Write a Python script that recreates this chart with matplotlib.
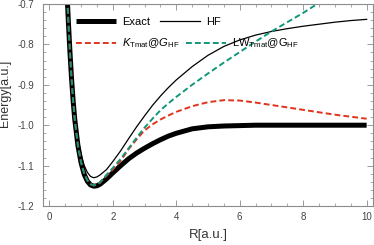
import matplotlib
matplotlib.use("Agg")
import matplotlib.pyplot as plt
from matplotlib.lines import Line2D

plt.rcParams['font.family'] = ['Liberation Sans', 'DejaVu Sans']
plt.rcParams['mathtext.fontset'] = 'custom'
plt.rcParams['mathtext.rm'] = 'Liberation Sans'
plt.rcParams['mathtext.it'] = 'Liberation Sans:italic'

# bond length R [a.u.] and energies [a.u.]
R = [0.5, 0.55, 0.6, 0.65, 0.7, 0.75, 0.8, 0.9, 1.0, 1.1, 1.2, 1.3, 1.4, 1.5, 1.6,
     1.8, 2.0, 2.25, 2.5, 2.75, 3.0, 3.25, 3.5, 3.75, 4.0, 4.5, 5.0, 5.5, 6.0, 6.5,
     7.0, 7.5, 8.0, 8.5, 9.0, 9.5, 10.0]

exact = [-0.56, -0.66, -0.745, -0.82, -0.885, -0.94, -0.985, -1.05, -1.093, -1.122,
         -1.139, -1.148, -1.151, -1.150, -1.146, -1.133, -1.118, -1.100, -1.083,
         -1.069, -1.057, -1.046, -1.036, -1.027, -1.020, -1.009, -1.004, -1.002,
         -1.001, -1.0, -1.0, -1.0, -1.0, -1.0, -1.0, -1.0, -1.0]

hf = [-0.55, -0.65, -0.735, -0.81, -0.872, -0.925, -0.968, -1.030, -1.072, -1.100,
      -1.117, -1.127, -1.130, -1.128, -1.123, -1.110, -1.090, -1.063, -1.033,
      -1.004, -0.977, -0.951, -0.928, -0.907, -0.888, -0.855, -0.827, -0.805,
      -0.789, -0.777, -0.768, -0.761, -0.755, -0.750, -0.745, -0.741, -0.738]

k_tmat = [-0.56, -0.66, -0.745, -0.82, -0.885, -0.94, -0.985, -1.05, -1.092, -1.120,
          -1.137, -1.146, -1.149, -1.147, -1.142, -1.125, -1.110, -1.088, -1.059,
          -1.035, -1.013, -0.998, -0.986, -0.976, -0.967, -0.953, -0.943, -0.938,
          -0.939, -0.944, -0.950, -0.956, -0.962, -0.968, -0.974, -0.979, -0.984]

lw_tmat = [-0.56, -0.66, -0.745, -0.82, -0.885, -0.94, -0.985, -1.05, -1.092, -1.120,
           -1.137, -1.146, -1.149, -1.147, -1.141, -1.123, -1.106, -1.083, -1.057,
           -1.031, -1.006, -0.984, -0.963, -0.946, -0.930, -0.900, -0.872, -0.845,
           -0.819, -0.793, -0.768, -0.745, -0.722, -0.697, -0.672, -0.647, -0.622]

red = '#e0331c'
green = '#12967a'

fig = plt.figure(figsize=(3.74, 2.45), dpi=100)
ax = fig.add_axes([43/374, 39/245, 330/374, 202/245])

ax.plot(R, exact, color='black', lw=3.6, solid_capstyle='butt', solid_joinstyle='round')
ax.plot(R, hf, color='black', lw=0.9)
ax.plot(R, k_tmat, color=red, lw=1.4, dashes=(3, 1.6))
ax.plot(R, lw_tmat, color=green, lw=1.4, dashes=(3, 1.6))

ax.set_xlim(-0.2, 10.2)
ax.set_ylim(-1.2, -0.7)
ax.set_xticks([0, 2, 4, 6, 8, 10])
ax.set_xticks([i * 0.5 for i in range(21)], minor=True)
ax.set_yticks([-1.2, -1.1, -1.0, -0.9, -0.8, -0.7])
ax.set_yticks([-1.2 + i * 0.02 for i in range(26)], minor=True)
ax.set_yticklabels(['-1.2', '-1.1', '-1.0', '-0.9', '-0.8', '-0.7'])

for s in ax.spines.values():
    s.set_color('#8c8c8c')
    s.set_linewidth(0.8)
ax.tick_params(which='both', direction='in', top=True, right=True,
               color='#9a9a9a', labelcolor='#444444', labelsize=7)
ax.tick_params(which='major', length=4, width=0.7)
ax.tick_params(which='minor', length=2, width=0.6)
ax.tick_params(axis='y', pad=6)
ax.tick_params(axis='x', pad=4)

ax.set_xlabel('R[a.u.]', fontsize=9.5, color='#333333')
ax.set_ylabel('Energy[a.u.]', fontsize=9, color='#333333')
ax.xaxis.set_label_coords(0.5, -0.115)
ax.yaxis.set_label_coords(-0.097, 0.56)

row1 = [Line2D([], [], color='black', lw=3.6, solid_capstyle='butt'),
        Line2D([], [], color='black', lw=0.9)]
row2 = [Line2D([], [], color=red, lw=1.4, dashes=(3, 1.6)),
        Line2D([], [], color=green, lw=1.4, dashes=(3, 1.6))]

leg1 = ax.legend(row1, ['Exact', 'HF'], ncol=2, loc='center left',
                 bbox_to_anchor=(0.1, 0.91), frameon=False, fontsize=8,
                 handlelength=3.6, handletextpad=0.55, columnspacing=0.9,
                 borderpad=0, borderaxespad=0)
ax.add_artist(leg1)
ax.legend(row2, [r'$K_{\rm Tmat}$@$G_{\rm HF}$', r'LW$_{\rm Tmat}$@G$_{\rm HF}$'],
          ncol=2, loc='center left', bbox_to_anchor=(0.1, 0.805), frameon=False,
          fontsize=8, handlelength=3.6, handletextpad=0.55, columnspacing=0.6,
          borderpad=0, borderaxespad=0)

fig.savefig('out.png', dpi=100)
